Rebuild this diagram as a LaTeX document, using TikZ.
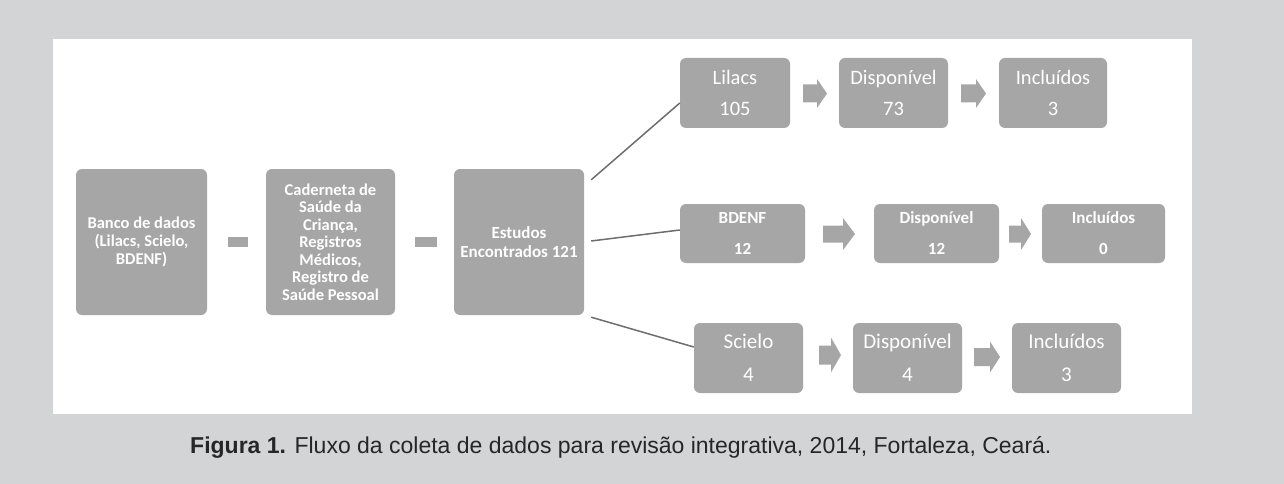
\documentclass[tikz,border=0pt]{standalone}
\usepackage{fontspec}
\setmainfont{Carlito}
\newfontfamily\capfont{Liberation Sans}
\usetikzlibrary{calc}
\definecolor{bggray}{HTML}{D3D4D6}
\definecolor{boxgray}{HTML}{A6A6A6}
\definecolor{linegray}{HTML}{6E6E6E}
\definecolor{captext}{HTML}{262626}
\tikzset{
  box/.style={fill=boxgray, draw=none, rounded corners=6pt, inner sep=0pt,
    text=white, align=center},
  bigbox/.style={box, minimum height=146pt},
  conn/.style={draw=linegray, line width=1.5pt},
  dashbar/.style={fill=boxgray},
  blockarrow/.style={fill=boxgray},
}
% block arrow: x1, x2, y centre, head height, shaft height, head length
\newcommand\myblockarrow[6]{%
  \fill[blockarrow] (#1,#3-#5/2) -- (#2-#6,#3-#5/2) -- (#2-#6,#3-#4/2) -- (#2,#3)
    -- (#2-#6,#3+#4/2) -- (#2-#6,#3+#5/2) -- (#1,#3+#5/2) -- cycle;}
\begin{document}
\begin{tikzpicture}[x=1pt,y=-1pt]
\useasboundingbox (0,0) rectangle (1284,484);
\fill[bggray] (0,0) rectangle (1284,484);
\fill[white] (53,39) rectangle (1192,414);

% left chain
\node[bigbox, minimum width=131pt, font=\bfseries\fontsize{16.5}{18}\selectfont] (b1) at (141.5,242)
  {Banco de dados\\(Lilacs, Scielo,\\BDENF)};
\node[bigbox, minimum width=129pt, font=\bfseries\fontsize{16.5}{17.5}\selectfont] (b2) at (330.5,242)
  {Caderneta de\\Saúde da\\Criança,\\Registros\\Médicos,\\Registro de\\Saúde Pessoal};
\node[bigbox, minimum width=130pt, font=\bfseries\fontsize{17}{18.5}\selectfont] (b3) at (519,242)
  {Estudos\\Encontrados 121};

\fill[dashbar] ($(b1.east)+(21,-5)$) rectangle ($(b2.west)+(-18,5)$);
\fill[dashbar] ($(b2.east)+(20,-5)$) rectangle ($(b3.west)+(-17,5)$);

% top row
\tikzset{toprow/.style={box, minimum width=109pt, minimum height=70pt, font=\fontsize{20.5}{31}\selectfont}}
\node[toprow, minimum width=110pt] (lil) at (735,93) {Lilacs\\105};
\node[toprow] (d1) at (893.5,93) {Disponível\\73};
\node[toprow, minimum width=108pt] (i1) at (1053,93) {Incluídos\\3};
\myblockarrow{803}{827}{93.5}{29}{18}{10}
\myblockarrow{961}{986}{93.5}{29}{18}{10}

% middle row
\tikzset{midrow/.style={box, minimum width=125pt, minimum height=59pt, font=\bfseries\fontsize{17}{31}\selectfont}}
\node[midrow] (bd) at (742.5,233.5) {BDENF\\12};
\node[midrow] (d2) at (936.5,233.5) {Disponível\\12};
\node[midrow, minimum width=123pt] (i2) at (1103.5,233.5) {Incluídos\\0};
\myblockarrow{823}{855}{234}{32}{17}{12}
\myblockarrow{1009}{1031}{234}{32}{17}{10}

% bottom row
\tikzset{botrow/.style={box, minimum width=109pt, minimum height=70pt, font=\fontsize{21}{33}\selectfont}}
\node[botrow] (sc) at (748.5,358) {Scielo\\4};
\node[botrow] (d3) at (907.5,358) {Disponível\\4};
\node[botrow] (i3) at (1066.5,358) {Incluídos\\3};
\myblockarrow{819}{841}{355}{35}{19}{10}
\myblockarrow{974}{1000}{357}{31}{18}{10}

% connectors
\coordinate (s1) at ($(b3.north east)+(7,11)$);
\coordinate (s2) at ($(b3.east)+(7,-1)$);
\coordinate (s3) at ($(b3.south east)+(7,2)$);
\draw[conn] (s1) -- ($(lil.west)+(0,10)$);
\draw[conn] (s2) -- ($(bd.west)+(0,-3.5)$);
\draw[conn] (s3) -- ($(sc.west)+(0,-11)$);

% caption
\node[anchor=base west, inner sep=0pt, text=captext, font=\capfont\fontsize{23}{26}\selectfont] (cap) at (190,453)
  {\textbf{Figura 1.} Fluxo da coleta de dados para revisão integrativa, 2014, Fortaleza, Ceará.};
\end{tikzpicture}
\end{document}
